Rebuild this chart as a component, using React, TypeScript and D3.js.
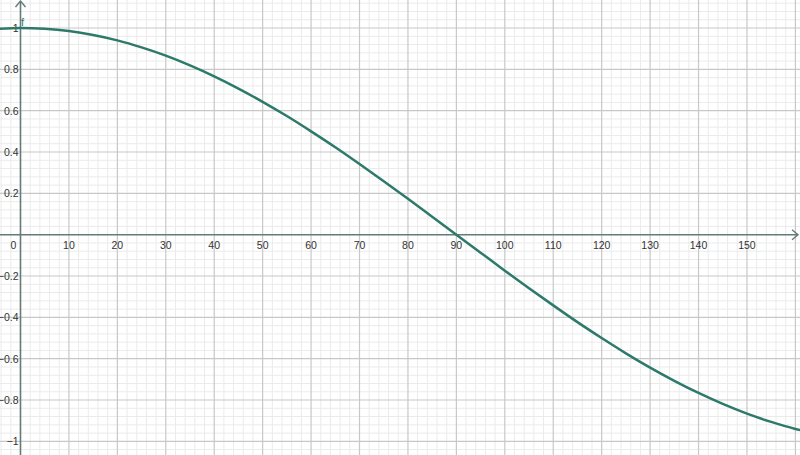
import React, { useEffect, useRef } from 'react';
import * as d3 from 'd3';

// values of f, every 5 degrees
const angles = [-5, 0, 5, 10, 15, 20, 25, 30, 35, 40, 45, 50, 55, 60, 65, 70, 75, 80, 85, 90,
  95, 100, 105, 110, 115, 120, 125, 130, 135, 140, 145, 150, 155, 160, 165];
const fValues = [0.996, 1, 0.996, 0.985, 0.966, 0.94, 0.906, 0.866, 0.819, 0.766, 0.707, 0.643,
  0.574, 0.5, 0.423, 0.342, 0.259, 0.174, 0.087, 0, -0.087, -0.174, -0.259, -0.342, -0.423,
  -0.5, -0.574, -0.643, -0.707, -0.766, -0.819, -0.866, -0.906, -0.94, -0.966];

const xTickLabels = [10, 20, 30, 40, 50, 60, 70, 80, 90, 100, 110, 120, 130, 140, 150];
const yTickLabels = [1, 0.8, 0.6, 0.4, 0.2, -0.2, -0.4, -0.6, -0.8, -1];

const W = 800;
const H = 455;

const App: React.FC = () => {
  const svgRef = useRef<SVGSVGElement | null>(null);

  useEffect(() => {
    if (!svgRef.current) return;
    const svg = d3.select(svgRef.current);
    svg.selectAll('*').remove();

    const x = d3.scaleLinear().domain([-4.23, 160.95]).range([0, W]);
    const y = d3.scaleLinear().domain([1.1355, -1.066]).range([0, H]);

    svg.append('rect').attr('width', W).attr('height', H).attr('fill', '#ffffff');

    // minor grid
    const grid = svg.append('g');
    d3.range(-4, 162, 2).forEach(v => {
      if (v % 10 === 0) return;
      grid.append('line')
        .attr('x1', x(v)).attr('x2', x(v)).attr('y1', 0).attr('y2', H)
        .attr('stroke', '#ebebeb').attr('stroke-width', 1);
    });
    d3.range(-1.04, 1.16, 0.04).forEach(v => {
      const r = Math.round(v * 100);
      if (r % 20 === 0) return;
      grid.append('line')
        .attr('x1', 0).attr('x2', W).attr('y1', y(v)).attr('y2', y(v))
        .attr('stroke', '#ebebeb').attr('stroke-width', 1);
    });
    // major grid
    d3.range(10, 170, 10).forEach(v => {
      grid.append('line')
        .attr('x1', x(v)).attr('x2', x(v)).attr('y1', 0).attr('y2', H)
        .attr('stroke', '#c8c8c8').attr('stroke-width', 1.2);
    });
    yTickLabels.forEach(v => {
      grid.append('line')
        .attr('x1', 0).attr('x2', W).attr('y1', y(v)).attr('y2', y(v))
        .attr('stroke', '#c8c8c8').attr('stroke-width', 1.2);
    });

    // axes
    const axisColor = '#667a78';
    svg.append('line')
      .attr('x1', 0).attr('x2', W - 2).attr('y1', y(0)).attr('y2', y(0))
      .attr('stroke', axisColor).attr('stroke-width', 1.6);
    svg.append('line')
      .attr('x1', x(0)).attr('x2', x(0)).attr('y1', 1).attr('y2', H)
      .attr('stroke', axisColor).attr('stroke-width', 1.6);
    // arrows
    svg.append('path')
      .attr('d', `M${W - 8},${y(0) - 5} L${W - 2},${y(0)} L${W - 8},${y(0) + 5}`)
      .attr('fill', 'none').attr('stroke', axisColor).attr('stroke-width', 1.4);
    svg.append('path')
      .attr('d', `M${x(0) - 5},7 L${x(0)},1 L${x(0) + 5},7`)
      .attr('fill', 'none').attr('stroke', axisColor).attr('stroke-width', 1.4);

    // tick labels
    const font = '"Liberation Sans", Arial, sans-serif';
    const labels = svg.append('g')
      .attr('font-family', font).attr('font-size', 10.5).attr('fill', '#333333');
    labels.append('text')
      .attr('x', x(0) - 7).attr('y', y(0) + 14).attr('text-anchor', 'middle').text('0');
    xTickLabels.forEach(v => {
      labels.append('text')
        .attr('x', x(v)).attr('y', y(0) + 14).attr('text-anchor', 'middle').text(String(v));
    });
    yTickLabels.forEach(v => {
      labels.append('text')
        .attr('x', x(0) - 2).attr('y', y(v) + 4).attr('text-anchor', 'end')
        .text(v < 0 ? '\u2212' + String(-v) : String(v));
    });

    // curve
    const line = d3.line<number>()
      .x((_, i) => x(angles[i]))
      .y(d => y(d))
      .curve(d3.curveCatmullRom);
    svg.append('path')
      .datum(fValues)
      .attr('d', line)
      .attr('fill', 'none')
      .attr('stroke', '#2d7a6a')
      .attr('stroke-width', 2.5)
      .attr('stroke-linecap', 'round');

    // function label
    svg.append('text')
      .attr('x', x(0) + 0.5).attr('y', 26)
      .attr('font-family', font).attr('font-size', 11)
      .attr('fill', '#2d7a6a').text('f');
  }, []);

  return (
    <svg ref={svgRef} width={W} height={H}
      style={{ position: 'absolute', left: 0, top: 0, display: 'block' }} />
  );
};

export default App;
